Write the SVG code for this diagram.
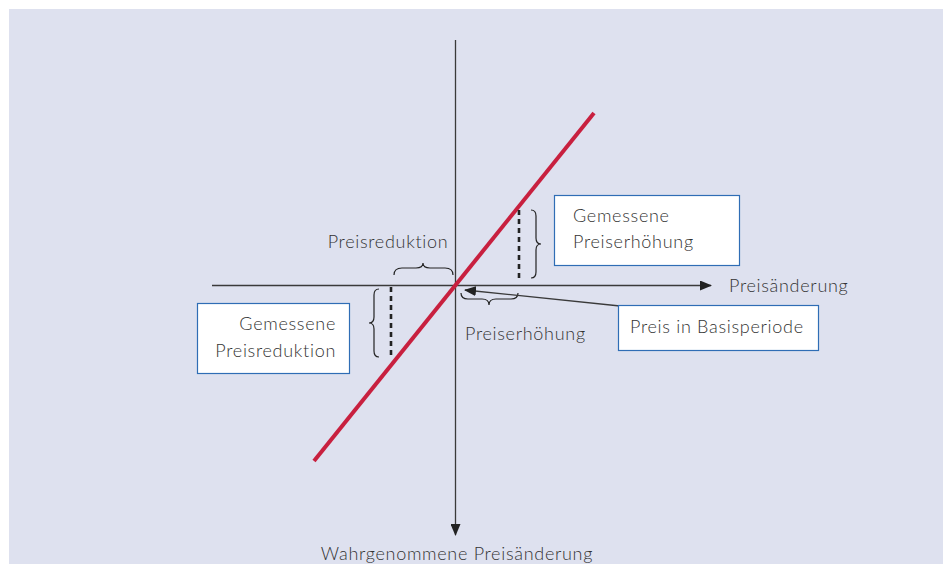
<svg xmlns="http://www.w3.org/2000/svg" width="943" height="564" viewBox="0 0 943 564">
<style>
text{font-family:Lato,"Open Sans","Liberation Sans",sans-serif;font-size:18px;letter-spacing:0.7px;fill:#333;font-weight:300}
.box{fill:#fff;stroke:#2f6db5;stroke-width:1.2}
.axis{stroke:#3a3a3a;stroke-width:1.3;fill:none}
.dash{stroke:#222;stroke-width:2.6;stroke-dasharray:5 4;fill:none}
.brace{stroke:#222;stroke-width:1.2;fill:none}
</style>
<defs>
<marker id="ah" markerWidth="12" markerHeight="10" refX="11" refY="5" orient="auto" markerUnits="userSpaceOnUse">
<path d="M0,0 L12,5 L0,10 Z" fill="#222"/>
</marker>
</defs>
<rect x="9" y="9" width="934" height="555" fill="#dee1ef"/>
<g id="connectors">
<line class="axis" x1="212" y1="285.5" x2="711" y2="285.5" marker-end="url(#ah)"/>
<line class="axis" x1="455.5" y1="40" x2="455.5" y2="535" marker-end="url(#ah)"/>
<line x1="314" y1="461" x2="594" y2="113" stroke="#c8203f" stroke-width="4"/>
<line class="dash" x1="519" y1="210" x2="519" y2="279"/>
<line class="dash" x1="391" y1="287" x2="391" y2="358"/>
<path class="brace" d="M394,275 Q394,268 402,268 L416,268 Q423,268 423,263 Q423,268 430,268 L445,268 Q453,268 453,275"/>
<path class="brace" d="M531,210 Q536,210 536,216 L536,238 Q536,244 541,244 Q536,244 536,250 L536,272 Q536,278 531,278"/>
<path class="brace" d="M379,289 Q374,289 374,295 L374,317 Q374,323 369,323 Q374,323 374,329 L374,351 Q374,357 379,357"/>
<path class="brace" d="M461,293 Q461,299 468,299 L482,299 Q489,299 489,305 Q489,299 496,299 L511,299 Q518,299 518,293"/>
<line class="axis" x1="620" y1="306" x2="465" y2="290" marker-end="url(#ah)"/>
</g>
<g id="label-preisreduktion"><text x="388" y="248" text-anchor="middle">Preisreduktion</text></g>
<g id="label-preiserhoehung"><text x="465" y="340">Preiserhöhung</text></g>
<g id="label-x"><text x="729" y="292">Preisänderung</text></g>
<g id="label-y"><text x="457" y="560" text-anchor="middle">Wahrgenommene Preisänderung</text></g>
<g id="node-gemessene-erhoehung">
<rect class="box" x="554.5" y="195.5" width="185" height="70"/>
<text x="573" y="222">Gemessene</text>
<text x="573" y="248">Preiserhöhung</text>
</g>
<g id="node-gemessene-reduktion">
<rect class="box" x="197.5" y="303.5" width="152" height="70"/>
<text x="336" y="330" text-anchor="end">Gemessene</text>
<text x="336" y="357" text-anchor="end">Preisreduktion</text>
</g>
<g id="node-basisperiode">
<rect class="box" x="618.5" y="305.5" width="200" height="45"/>
<text x="630" y="333">Preis in Basisperiode</text>
</g>
</svg>
